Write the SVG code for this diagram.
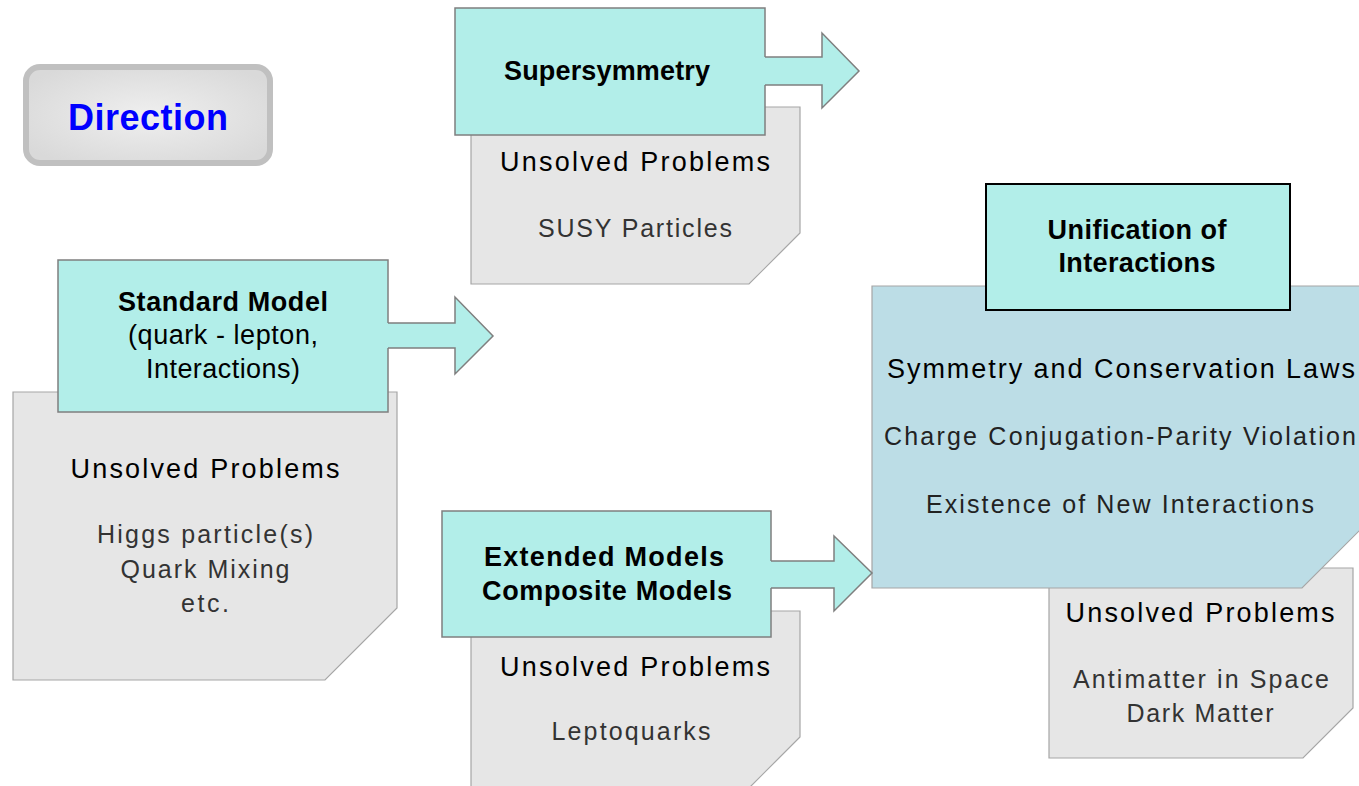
<svg xmlns="http://www.w3.org/2000/svg" width="1359" height="786" viewBox="0 0 1359 786">
<style>
.t{fill:#b2eee9;stroke:#7f7f7f;stroke-width:1.5}
.doc{fill:#e6e6e6;stroke:#a6a6a6;stroke-width:1.2}
.bdoc{fill:#bcdde6;stroke:#a6a6a6;stroke-width:1.2}
.title{font-family:"Liberation Sans",Arial,sans-serif;font-weight:bold;font-size:27px;fill:#000;text-anchor:middle}
.sub{font-family:"Liberation Sans",Arial,sans-serif;font-size:27px;fill:#000;text-anchor:middle}
.up{font-family:"Liberation Sans",Arial,sans-serif;font-size:27px;fill:#000;text-anchor:middle}
.it{font-family:"Liberation Sans",Arial,sans-serif;font-size:25px;fill:#333;text-anchor:middle}
.afill{fill:#b2eee9;stroke:none}
.aline{fill:none;stroke:#7f7f7f;stroke-width:1.5}
</style>
<defs>
<radialGradient id="dg" cx="50%" cy="50%" r="60%">
<stop offset="0" stop-color="#efefef"/>
<stop offset="1" stop-color="#d9d9d9"/>
</radialGradient>
</defs>
<rect width="1359" height="786" fill="#ffffff"/>

<g id="direction">
<rect x="26" y="67" width="244" height="96" rx="14" fill="url(#dg)" stroke="#c0c0c0" stroke-width="6"/>
<text x="148" y="130" font-family="'Liberation Sans',Arial,sans-serif" font-weight="bold" font-size="36" fill="#0000ff" text-anchor="middle" textLength="160">Direction</text>
</g>

<g id="susy-problems">
<path class="doc" d="M471,107 H800 V233 L749,284 H471 Z"/>
<text class="up" x="635" y="171" textLength="270">Unsolved Problems</text>
<text class="it" x="635" y="237" textLength="194">SUSY Particles</text>
</g>
<g id="supersymmetry">
<rect class="t" x="455" y="8" width="310" height="127"/>
<text class="title" x="607" y="80" textLength="206">Supersymmetry</text>
</g>

<g id="standard-problems">
<path class="doc" d="M13,392 H397 V608 L325,680 H13 Z"/>
<text class="up" x="205" y="478" textLength="269">Unsolved Problems</text>
<text class="it" x="205" y="543" textLength="216">Higgs particle(s)</text>
<text class="it" x="205" y="578" textLength="169">Quark Mixing</text>
<text class="it" x="205" y="612" textLength="48">etc.</text>
</g>
<g id="standard-model">
<rect class="t" x="58" y="260" width="330" height="152"/>
<text class="title" x="223" y="311" textLength="210">Standard Model</text>
<text class="sub" x="223" y="344" textLength="190">(quark - lepton,</text>
<text class="sub" x="223" y="378" textLength="154">Interactions)</text>
</g>

<g id="extended-problems">
<path class="doc" d="M471,611 H800 V737 L749,788 H471 Z"/>
<text class="up" x="635" y="676" textLength="270">Unsolved Problems</text>
<text class="it" x="631" y="740" textLength="159">Leptoquarks</text>
</g>
<g id="extended-models">
<rect class="t" x="442" y="511" width="329" height="126"/>
<text class="title" x="604" y="566" textLength="240">Extended Models</text>
<text class="title" x="607" y="600" textLength="250">Composite Models</text>
</g>

<g id="unification-problems">
<path class="doc" d="M1049,568 H1353 V708 L1303,758 H1049 Z"/>
<text class="up" x="1200" y="622" textLength="269">Unsolved Problems</text>
<text class="it" x="1201" y="688" textLength="256">Antimatter in Space</text>
<text class="it" x="1200" y="722" textLength="147">Dark Matter</text>
</g>
<g id="unification-content">
<path class="bdoc" d="M872,286 H1400 V490 L1302,588 H872 Z"/>
<text class="up" x="887" y="378" style="text-anchor:start" textLength="468">Symmetry and Conservation Laws</text>
<text class="it" x="884" y="445" style="text-anchor:start;fill:#222" textLength="472">Charge Conjugation-Parity Violation</text>
<text class="it" x="1120" y="513" style="fill:#222" textLength="388">Existence of New Interactions</text>
</g>
<g id="unification">
<rect x="986" y="184" width="304" height="126" fill="#b2eee9" stroke="#000" stroke-width="2"/>
<text class="title" x="1137" y="239" textLength="179">Unification of</text>
<text class="title" x="1137" y="272" textLength="157">Interactions</text>
</g>

<g id="connectors">
<polygon class="afill" points="764,57 822,57 822,33 859,71 822,108 822,85 764,85"/>
<polyline class="aline" points="765,57 822,57 822,33 859,71 822,108 822,85 765,85"/>
<polygon class="afill" points="387,323 455,323 455,297 493,336 455,374 455,348 387,348"/>
<polyline class="aline" points="388,323 455,323 455,297 493,336 455,374 455,348 388,348"/>
<polygon class="afill" points="770,561 834,561 834,536 872,573 834,611 834,588 770,588"/>
<polyline class="aline" points="771,561 834,561 834,536 872,573 834,611 834,588 771,588"/>
</g>
</svg>
